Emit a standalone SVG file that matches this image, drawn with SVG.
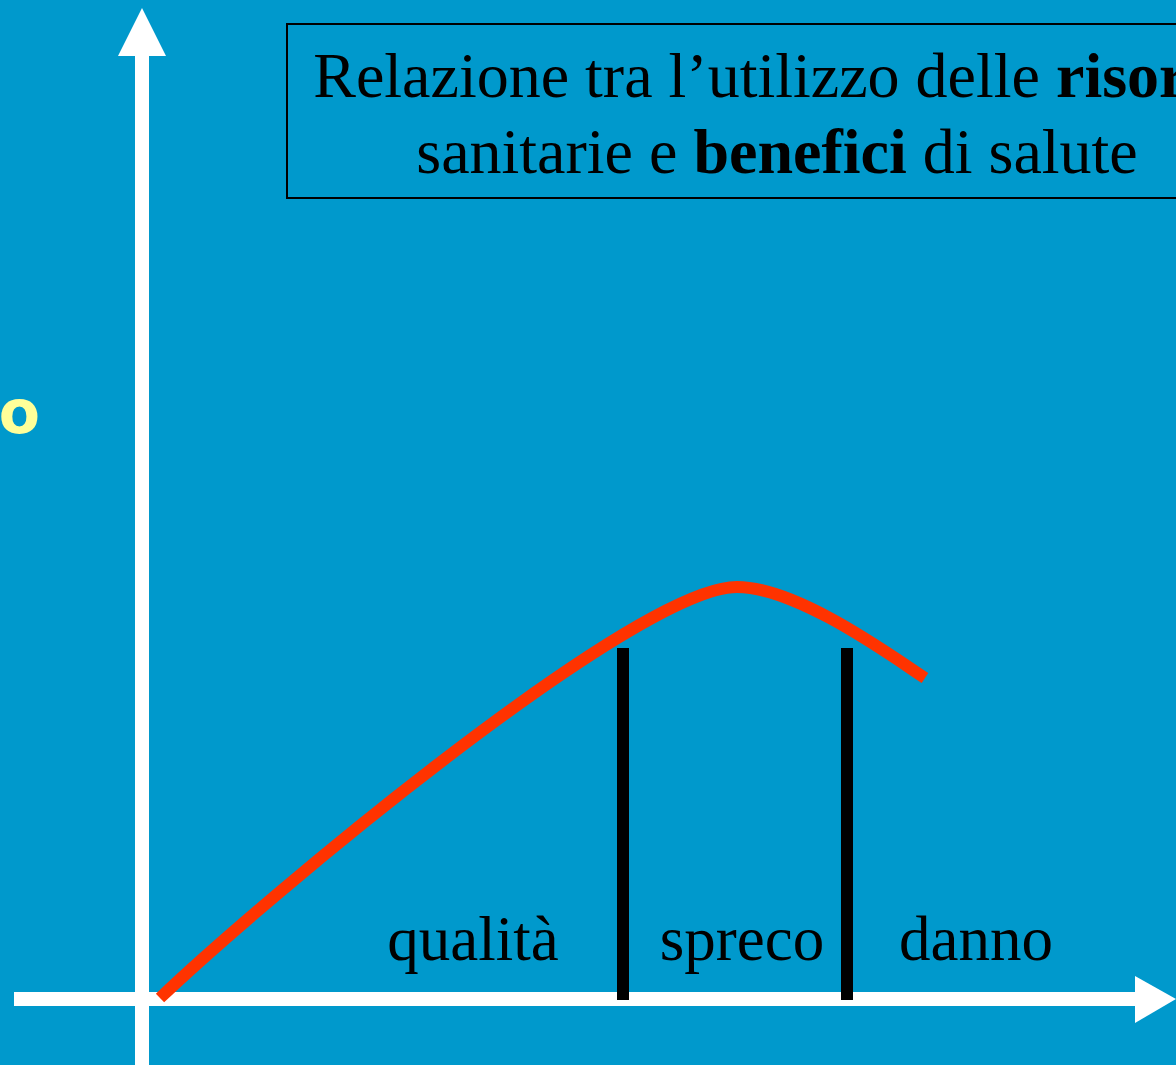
<svg xmlns="http://www.w3.org/2000/svg" width="1176" height="1065" viewBox="0 0 1176 1065">
<style>
.serif{font-family:"Liberation Serif","Times New Roman",serif;fill:#000}
.lbl{font-size:63px;text-anchor:middle}
.ttl{font-size:64px;text-anchor:middle}
.axis{fill:#fff}
.bar{stroke:#000;stroke-width:12}
</style>
<rect width="1176" height="1065" fill="#0099CC"/>
<g id="ylabel"><text x="40" y="433" font-family="DejaVu Sans, sans-serif" font-weight="bold" font-size="60" fill="#FFFF99" text-anchor="end">o</text></g>
<g id="title">
<rect x="287" y="24" width="980" height="174" fill="none" stroke="#000" stroke-width="2"/>
<text class="serif ttl" x="777" y="97">Relazione tra l’utilizzo delle <tspan font-weight="bold">risorse</tspan></text>
<text class="serif ttl" x="777" y="173">sanitarie e <tspan font-weight="bold">benefici</tspan> di salute</text>
</g>
<g id="connectors">
<rect class="axis" x="135" y="52" width="14" height="1013"/>
<polygon class="axis" points="142,8 166,56 118,56"/>
<rect class="axis" x="14" y="992" width="1124" height="14"/>
<polygon class="axis" points="1135,976 1176,999 1135,1023"/>
<path d="M160,998 C265,898 636,587 737,587 C797,587 890,655 925,678" fill="none" stroke="#FF3300" stroke-width="12"/>
<line class="bar" x1="623" y1="648" x2="623" y2="1000"/>
<line class="bar" x1="847" y1="648" x2="847" y2="1000"/>
</g>
<g id="labels">
<text class="serif lbl" x="473" y="960">qualità</text>
<text class="serif lbl" x="742" y="960">spreco</text>
<text class="serif lbl" x="976" y="960">danno</text>
</g>
</svg>
